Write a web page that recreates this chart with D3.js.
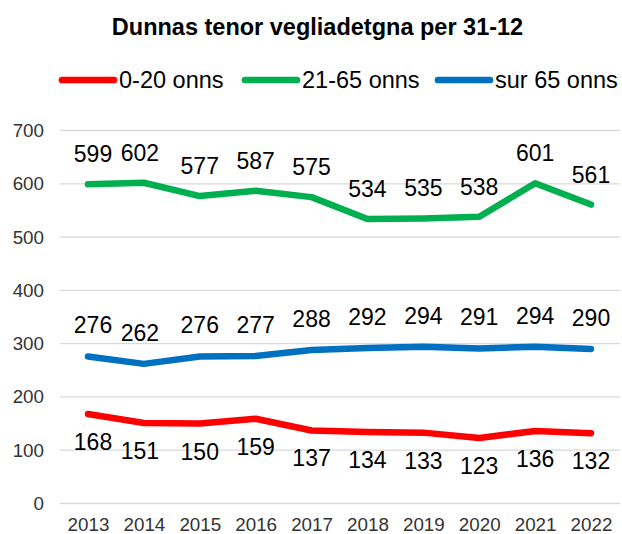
<!DOCTYPE html>
<html><head><meta charset="utf-8">
<script src="https://cdn.jsdelivr.net/npm/d3@7"></script>
<style>body{margin:0;background:#fff}svg{display:block;font-family:"Liberation Sans",Arial,sans-serif}</style>
</head><body>
<svg id="c" width="622" height="534"></svg>
<script>
const years = ["2013","2014","2015","2016","2017","2018","2019","2020","2021","2022"];
const young = [168,151,150,159,137,134,133,123,136,132];
const adult = [599,602,577,587,575,534,535,538,601,561];
const senior = [276,262,276,277,288,292,294,291,294,290];
const yTicks = [0,100,200,300,400,500,600,700];
const seriesNames = ["0-20 onns","21-65 onns","sur 65 onns"];
const colors = ["#FF0000","#00B050","#0070C0"];
const title = "Dunnas tenor vegliadetgna per 31-12";

const svg = d3.select("#c");
const x = d3.scalePoint().domain(years).range([88, 591]);
const y = d3.scaleLinear().domain([0,700]).range([503.5, 130.5]);

// grid
svg.append("g").selectAll("line").data(yTicks).join("line")
  .attr("x1",60).attr("x2",620)
  .attr("y1",d=>y(d)).attr("y2",d=>y(d))
  .attr("stroke","#D9D9D9").attr("stroke-width",1.3);

// y axis labels
const yAxis = d3.axisLeft(y).tickValues(yTicks).tickSize(0).tickPadding(0);
const ga = svg.append("g").attr("transform","translate(44,0)").call(yAxis);
ga.select(".domain").remove();
ga.selectAll("text").attr("font-size","18.8px").attr("fill","#333").attr("font-family","Liberation Sans, Arial, sans-serif");

// x axis labels
const xAxis = d3.axisBottom(x).tickSize(0).tickPadding(0);
const gx = svg.append("g").attr("transform","translate(0,518)").call(xAxis);
gx.select(".domain").remove();
gx.selectAll("text").attr("font-size","18.8px").attr("fill","#333").attr("font-family","Liberation Sans, Arial, sans-serif");

const data = [young, adult, senior];
const offsets = [28, -30, -31];
const nudge = {"2013": 5, "2014": -4};
const line = d3.line().x((d,i)=>x(years[i])).y(d=>y(d));
data.forEach((s,k)=>{
  svg.append("path").datum(s).attr("d",line).attr("fill","none")
    .attr("stroke",colors[k]).attr("stroke-width",6.5)
    .attr("stroke-linecap","round").attr("stroke-linejoin","round");
});
data.forEach((s,k)=>{
  svg.append("g").selectAll("text").data(s).join("text")
    .attr("x",(d,i)=>x(years[i]) + (nudge[years[i]]||0)).attr("y",d=>y(d)+offsets[k])
    .attr("text-anchor","middle").attr("dominant-baseline","central")
    .attr("font-size","23px").attr("fill","#000").text(d=>d);
});

// title
svg.append("text").attr("x",317.5).attr("y",35).attr("text-anchor","middle")
  .attr("font-size","23.5px").attr("font-weight","bold").text(title);

// legend
const legX = [59, 242, 435];
seriesNames.forEach((n,k)=>{
  svg.append("line").attr("x1",legX[k]+3).attr("x2",legX[k]+55).attr("y1",80).attr("y2",80)
    .attr("stroke",colors[k]).attr("stroke-width",6.7).attr("stroke-linecap","round");
  svg.append("text").attr("x",legX[k]+60).attr("y",88).attr("font-size","23.5px").attr("fill","#000").text(n);
});
</script>
</body></html>
